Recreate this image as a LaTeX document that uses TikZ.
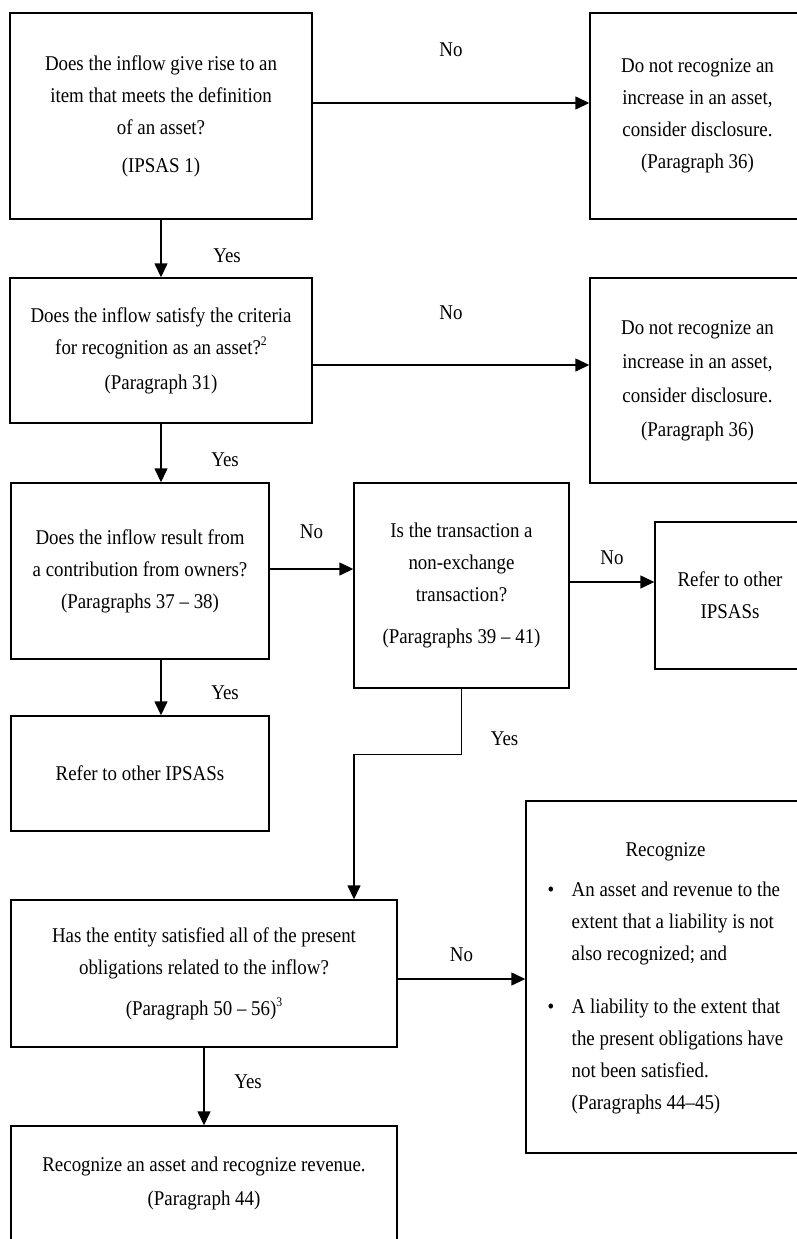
\documentclass[tikz,border=0pt]{standalone}
\usepackage{fontspec}
\setmainfont{Liberation Serif}[FakeStretch=0.9]
\usetikzlibrary{arrows.meta}
\newcommand{\supn}[1]{\raisebox{9pt}{\fontsize{13}{13}\selectfont #1}}
\begin{document}
\begin{tikzpicture}[x=1pt,y=-1pt,
  every node/.style={font=\fontsize{21}{32}\selectfont},
  box/.style={draw=black, line width=1.4pt, rectangle, inner sep=0pt, align=center},
  arr/.style={line width=1.4pt, -{Triangle[length=14pt,width=13pt]}},
  lbl/.style={inner sep=0pt}]
\useasboundingbox (0,0) rectangle (797,1239);
\clip (0,0) rectangle (797,1239);

\node[box, minimum width=302pt, minimum height=206pt] (b1) at (161,116)
  {Does the inflow give rise to an\\ item that meets the definition\\ of an asset?\\[6pt] (IPSAS 1)};
\node[box, minimum width=215pt, minimum height=206pt] (r1) at (697.5,116)
  {Do not recognize an\\ increase in an asset,\\ consider disclosure.\\ (Paragraph 36)};
\node[box, minimum width=302pt, minimum height=145pt] (b2) at (161,350.5)
  {Does the inflow satisfy the criteria\\ for recognition as an asset?\supn{2}\\[3pt] (Paragraph 31)};
\node[box, minimum width=215pt, minimum height=205pt] (r2) at (697.5,380.5)
  {Do not recognize an\\[2pt] increase in an asset,\\[2pt] consider disclosure.\\[2pt] (Paragraph 36)};
\node[box, minimum width=258pt, minimum height=176pt] (b3) at (140,571)
  {Does the inflow result from\\ a contribution from owners?\\ (Paragraphs 37 -- 38)};
\node[box, minimum width=215pt, minimum height=205pt] (b4) at (461.5,585.5)
  {Is the transaction a\\ non-exchange\\ transaction?\\[10pt] (Paragraphs 39 -- 41)};
\node[box, minimum width=150pt, minimum height=147pt] (r3) at (730,595.5)
  {Refer to other\\ IPSASs};
\node[box, minimum width=258pt, minimum height=115pt] (b5) at (140,773.5)
  {Refer to other IPSASs};
\node[box, minimum width=386pt, minimum height=147pt] (b6) at (204,973.5)
  {Has the entity satisfied all of the present\\ obligations related to the inflow?\\[9pt] (Paragraph 50 -- 56)\supn{3}};
\node[box, minimum width=279pt, minimum height=352pt] (rb) at (665.5,977)
  {\begin{tabular}{@{}p{24pt}@{}l@{}}
   \multicolumn{2}{c}{Recognize}\\[8pt]
   \textbullet & An asset and revenue to the\\
   & extent that a liability is not\\
   & also recognized; and\\[21pt]
   \textbullet & A liability to the extent that\\
   & the present obligations have\\
   & not been satisfied.\\
   & (Paragraphs 44--45)
   \end{tabular}};
\node[box, minimum width=386pt, minimum height=115pt] (b7) at (204,1183.5)
  {Recognize an asset and recognize revenue.\\[2pt] (Paragraph 44)};

\draw[arr] ([yshift=13pt]b1.east) -- node[lbl, yshift=53pt]{No} ([yshift=13pt]b1.east -| r1.west);
\draw[arr] ([yshift=-14.5pt]b2.east) -- node[lbl, yshift=52pt]{No} ([yshift=-14.5pt]b2.east -| r2.west);
\draw[arr] (b1.south) -- node[lbl, xshift=66pt, yshift=-7pt]{Yes} (b2.north);
\draw[arr] (b2.south) -- node[lbl, xshift=64pt, yshift=-7pt]{Yes} (b2.south |- b3.north);
\draw[arr] ([yshift=2pt]b3.east) -- node[lbl, yshift=37pt]{No} ([yshift=2pt]b3.east -| b4.west);
\draw[arr] ([yshift=3.5pt]b4.east) -- node[lbl, yshift=24pt]{No} ([yshift=3.5pt]b4.east -| r3.west);
\draw[arr] ([xshift=21pt]b3.south) -- node[lbl, xshift=64pt, yshift=-5pt]{Yes} ([xshift=21pt]b3.south |- b5.north);
\draw[arr] (b4.south) -- node[lbl, pos=0.76, xshift=43pt]{Yes} ++(0,66) -| ([xshift=150pt]b6.north);
\draw[arr] ([yshift=-5.5pt]b6.east) -- node[lbl, yshift=24pt]{No} ([yshift=-5.5pt]b6.east -| rb.west);
\draw[arr] (b6.south) -- node[lbl, xshift=44pt, yshift=4.5pt]{Yes} (b7.north);
\end{tikzpicture}
\end{document}
